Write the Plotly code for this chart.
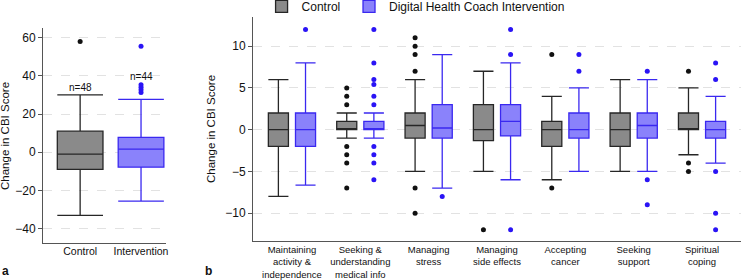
import plotly.graph_objects as go

# ---------------- Panel a data ----------------
a_groups = ["Control", "Intervention"]
a_q1 = [-9, -7.8]
a_median = [-1, 1.6]
a_q3 = [11, 7.8]
a_lower = [-33, -25.6]
a_upper = [30, 27.7]
a_outliers = [[58], [55.5, 35.3, 34, 32.7, 31.3]]
a_n_labels = ["n=48", "n=44"]
a_n_y = [34, 39.7]

# ---------------- Panel b data ----------------
b_categories = [
    "Maintaining<br>activity &<br>independence",
    "Seeking &<br>understanding<br>medical info",
    "Managing<br>stress",
    "Managing<br>side effects",
    "Accepting<br>cancer",
    "Seeking<br>support",
    "Spiritual<br>coping",
]
ctrl_q1 = [-2, 0, -1, -1.3, -2, -2, 0]
ctrl_median = [0, 0, 0.5, 0, 0, 0, 0]
ctrl_q3 = [2, 1, 2, 3, 1, 2, 2]
ctrl_lower = [-8, -1, -5, -5, -6, -5, -3]
ctrl_upper = [6, 2, 6, 7, 4, 6, 5]
ctrl_outliers = [
    [],
    [5, 4, 3, -2, -3, -4, -7],
    [11, 10, 9, 7, -7, -10],
    [-12],
    [9, -7],
    [],
    [7, -4, -5],
]

int_q1 = [-2, 0, -1, -0.75, -1, -1, -1]
int_median = [0, 0, 0.2, 1, 0, 0.5, 0]
int_q3 = [2, 1, 3, 3, 2, 2, 1]
int_lower = [-6.65, -1, -7, -6, -5, -5, -4]
int_upper = [8, 2, 9, 8, 5, 6, 4]
int_outliers = [
    [12],
    [12, 8, 6, 5.4, 4, 3, -2, -3, -4, -6],
    [-8],
    [12, 9, -12],
    [9, 7],
    [7, -6, -9],
    [8, 6, -5, -10, -12],
]

a_ticks = [-40, -20, 0, 20, 40, 60]
b_ticks = [-10, -5, 0, 5, 10]


def sample_points(outliers, medians):
    # box with no outliers still needs a (hidden, in-box) sample so the trace renders
    return [o if len(o) else [m] for o, m in zip(outliers, medians)]


# ---------------- Styles ----------------
CTRL_FILL = "#8a8a8a"
CTRL_LINE = "#262626"
CTRL_PT = "#111111"
INT_FILL = "#8a82fb"
INT_LINE = "#3a28f0"
INT_PT = "#2a14f5"
FONT = "Liberation Sans, Arial, sans-serif"
AXC = "#555555"
GRID = "#e2e2e2"

fig = go.Figure()

# Panel a
a_fill = [CTRL_FILL, INT_FILL]
a_line = [CTRL_LINE, INT_LINE]
a_pt = [CTRL_PT, INT_PT]
for i, g in enumerate(a_groups):
    fig.add_trace(go.Box(
        x=[g], q1=[a_q1[i]], median=[a_median[i]], q3=[a_q3[i]],
        lowerfence=[a_lower[i]], upperfence=[a_upper[i]],
        y=[a_outliers[i]], boxpoints="outliers", jitter=0, pointpos=0,
        fillcolor=a_fill[i], line=dict(color=a_line[i], width=1.3),
        marker=dict(color=a_pt[i], size=5),
        width=0.75, offsetgroup="a", alignmentgroup="a",
        whiskerwidth=1, showlegend=False, xaxis="x", yaxis="y",
        hoverinfo="skip",
    ))

# Panel b
fig.add_trace(go.Box(
    x=b_categories, q1=ctrl_q1, median=ctrl_median, q3=ctrl_q3,
    lowerfence=ctrl_lower, upperfence=ctrl_upper,
    y=sample_points(ctrl_outliers, ctrl_median),
    boxpoints="outliers", jitter=0, pointpos=0, name="Control",
    fillcolor=CTRL_FILL, line=dict(color=CTRL_LINE, width=1.3),
    marker=dict(color=CTRL_PT, size=5), whiskerwidth=1,
    offsetgroup="ctrl", alignmentgroup="b", legend="legend",
    xaxis="x2", yaxis="y2", hoverinfo="skip",
))
fig.add_trace(go.Box(
    x=b_categories, q1=int_q1, median=int_median, q3=int_q3,
    lowerfence=int_lower, upperfence=int_upper,
    y=sample_points(int_outliers, int_median),
    boxpoints="outliers", jitter=0, pointpos=0,
    name="Digital Health Coach Intervention",
    fillcolor=INT_FILL, line=dict(color=INT_LINE, width=1.3),
    marker=dict(color=INT_PT, size=5), whiskerwidth=1,
    offsetgroup="int", alignmentgroup="b", legend="legend2",
    xaxis="x2", yaxis="y2", hoverinfo="skip",
))

W, H = 741, 280
axis_common = dict(showline=True, linecolor=AXC, linewidth=1, zeroline=False,
                   automargin=False)
legend_common = dict(orientation="h", y=1.029, xanchor="left", yanchor="top",
                     font=dict(size=12), bgcolor="rgba(0,0,0,0)",
                     itemwidth=30, tracegroupgap=0)

fig.update_layout(
    width=W, height=H,
    margin=dict(l=0, r=0, t=0, b=0, autoexpand=False),
    paper_bgcolor="white", plot_bgcolor="white",
    font=dict(family=FONT, color="#111111"),
    boxmode="group", boxgap=0.206, boxgroupgap=0.26,
    xaxis=dict(domain=[43 / W, 166 / W], type="category",
               range=[-0.61, 1.41], showgrid=False, ticks="",
               tickfont=dict(size=10.5), ticklabelstandoff=-2,
               anchor="y", **axis_common),
    yaxis=dict(domain=[1 - 243 / H, 1 - 28 / H], range=[-47.5, 65],
               tickvals=a_ticks, ticks="outside", ticklen=4, tickcolor=AXC,
               showgrid=True, gridcolor=GRID, griddash="dash", gridwidth=1,
               tickfont=dict(size=12), anchor="x", **axis_common),
    xaxis2=dict(domain=[253 / W, 1.0], type="category",
                range=[-0.57, 6.57], showgrid=False, ticks="",
                tickfont=dict(size=9.5), anchor="y2", **axis_common),
    yaxis2=dict(domain=[1 - 240.7 / H, 1 - 17 / H], range=[-13.3, 13.5],
                tickvals=b_ticks, ticks="outside", ticklen=4, tickcolor=AXC,
                showgrid=True, gridcolor=GRID, griddash="dash", gridwidth=1,
                tickfont=dict(size=12), anchor="x2", **axis_common),
    legend=dict(x=0.353, **legend_common),
    legend2=dict(x=0.471, **legend_common),
    showlegend=True,
)

annotations = []
for i, g in enumerate(a_groups):
    annotations.append(dict(x=g, y=a_n_y[i], xref="x", yref="y", text=a_n_labels[i],
                            showarrow=False, font=dict(size=10), yanchor="middle"))
annotations += [
    dict(x=5 / W, y=1 - 136 / H, xref="paper", yref="paper", text="Change in CBI Score",
         textangle=-90, showarrow=False, font=dict(size=11.5), xanchor="center", yanchor="middle"),
    dict(x=211 / W, y=1 - 129 / H, xref="paper", yref="paper", text="Change in CBI Score",
         textangle=-90, showarrow=False, font=dict(size=11.5), xanchor="center", yanchor="middle"),
    dict(x=0 / W, y=1 - 271 / H, xref="paper", yref="paper", text="<b>a</b>",
         showarrow=False, font=dict(size=12), xanchor="left", yanchor="middle"),
    dict(x=203 / W, y=1 - 271 / H, xref="paper", yref="paper", text="<b>b</b>",
         showarrow=False, font=dict(size=12), xanchor="left", yanchor="middle"),
]
fig.update_layout(annotations=annotations)

fig.write_html("out.html", config={"displayModeBar": False},
               post_script="document.body.style.margin='0';")
